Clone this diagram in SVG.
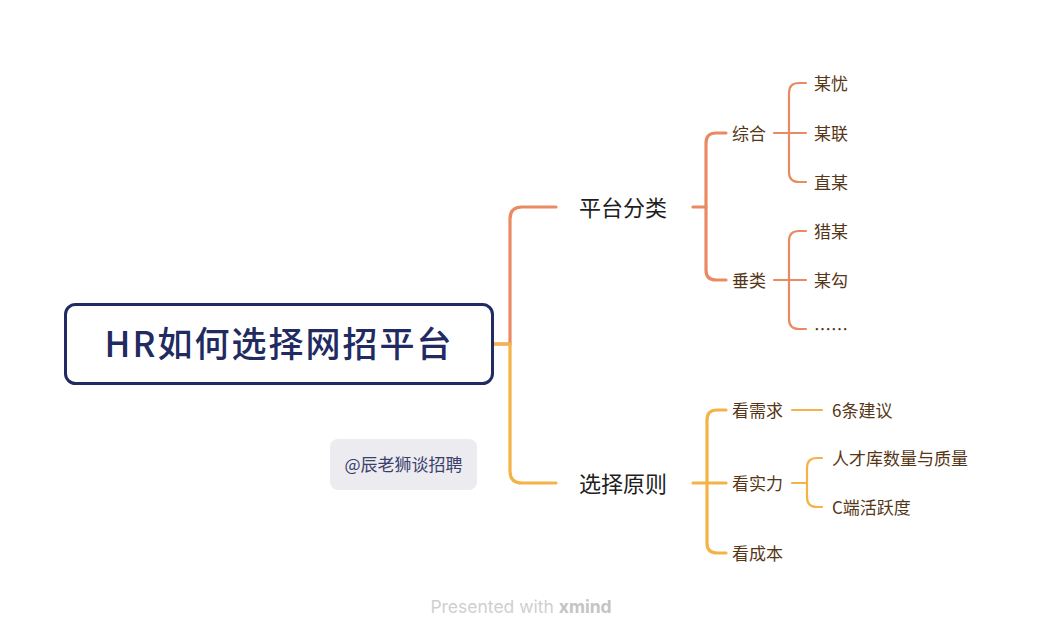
<svg xmlns="http://www.w3.org/2000/svg" width="1042" height="638" viewBox="0 0 1042 638">
<style>
.cn{font-family:"Noto Sans CJK SC","Liberation Sans",sans-serif}
.l1{font-size:22px;fill:#1e1e1e}
.l2{font-size:17px;fill:#553617}
.o{fill:none;stroke:#ea8a62;stroke-linecap:round}
.y{fill:none;stroke:#f4b348;stroke-linecap:round}
.w3{stroke-width:3.2}
.w2{stroke-width:2.2}
</style>
<rect width="1042" height="638" fill="#ffffff"/>
<g id="connectors">
<path class="o w3" d="M494 344 H510 V219 Q510 207 522 207 H556"/>
<path class="y w3" d="M494 344 H510 V471 Q510 483 522 483 H556"/>
<path class="o w3" d="M693 207 H706"/>
<path class="o w3" d="M706 207 V143 Q706 133 716 133 H726 M706 207 V270 Q706 280 716 280 H726"/>
<path class="o w2" d="M774 133 H806 M789 133 V93 Q789 83 799 83 H806 M789 133 V172 Q789 182 799 182 H806"/>
<path class="o w2" d="M774 280 H806 M789 280 V241 Q789 231 799 231 H806 M789 280 V319 Q789 329 799 329 H806"/>
<path class="y w3" d="M693 483 H726 M707 483 V420 Q707 410 717 410 H726 M707 483 V543 Q707 553 717 553 H726"/>
<path class="y w2" d="M792 410 H822"/>
<path class="y w2" d="M792 483 H807 M807 483 V468 Q807 458 817 458 H822 M807 483 V497 Q807 507 817 507 H822"/>
</g>
<g id="root">
<rect x="65.5" y="304.5" width="427" height="79" rx="10" fill="#ffffff" stroke="#222b61" stroke-width="3"/>
<text x="279" y="357" text-anchor="middle" class="cn" font-size="35" font-weight="500" fill="#222b61" letter-spacing="2">HR如何选择网招平台</text>
</g>
<g id="n-pingtaifenlei"><text x="579" y="216" class="cn l1">平台分类</text></g>
<g id="n-xuanzeyuanze"><text x="579" y="492" class="cn l1">选择原则</text></g>
<g id="n-zonghe"><text x="732" y="140" class="cn l2">综合</text></g>
<g id="n-chuilei"><text x="732" y="287" class="cn l2">垂类</text></g>
<g id="n-mouyou"><text x="814" y="90" class="cn l2">某忧</text></g>
<g id="n-moulian"><text x="814" y="140" class="cn l2">某联</text></g>
<g id="n-zhimou"><text x="814" y="189" class="cn l2">直某</text></g>
<g id="n-liemou"><text x="814" y="238" class="cn l2">猎某</text></g>
<g id="n-mougou"><text x="814" y="287" class="cn l2">某勾</text></g>
<g id="n-more"><text x="814" y="336" class="cn l2" font-size="12.5">……</text></g>
<g id="n-xuqiu"><text x="732" y="417" class="cn l2">看需求</text></g>
<g id="n-shili"><text x="732" y="490" class="cn l2">看实力</text></g>
<g id="n-chengben"><text x="732" y="560" class="cn l2">看成本</text></g>
<g id="n-jianyi"><text x="832" y="417" class="cn l2">6条建议</text></g>
<g id="n-rencai"><text x="832" y="465" class="cn l2">人才库数量与质量</text></g>
<g id="n-cduan"><text x="832" y="514" class="cn l2">C端活跃度</text></g>
<g id="label">
<rect x="330" y="439" width="147" height="51" rx="8" fill="#ecebf0"/>
<text x="403.5" y="471" text-anchor="middle" class="cn" font-size="17" fill="#3b3f6c">@辰老狮谈招聘</text>
</g>
<g id="footer">
<text x="521" y="613" text-anchor="middle" font-family="Inter,'Liberation Sans',sans-serif" font-size="17.5" fill="#cfcfcf">Presented with <tspan font-weight="bold" fill="#c4c4c4">xmind</tspan></text>
</g>
</svg>
